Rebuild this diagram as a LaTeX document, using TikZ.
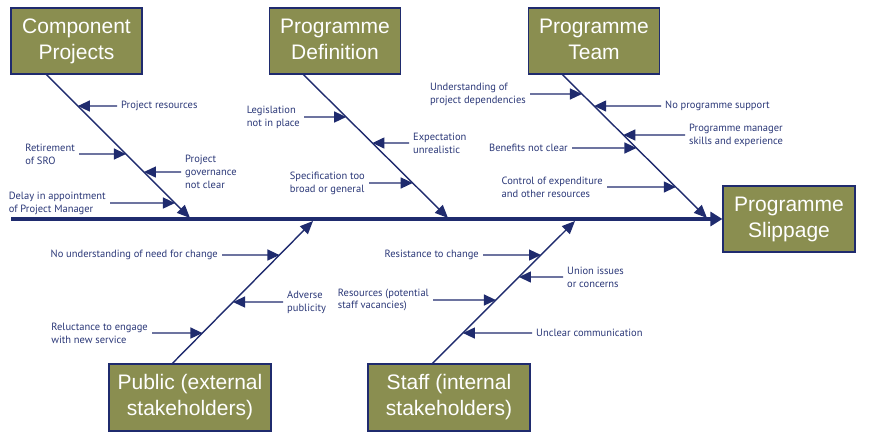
\documentclass[tikz,border=0pt]{standalone}
\usepackage{fontspec}
\setmainfont{Liberation Sans}
\newfontfamily\labfont{PT Sans}
\usetikzlibrary{arrows.meta}
\definecolor{navy}{HTML}{1F2B6E}
\definecolor{labnavy}{HTML}{2B3878}
\definecolor{olive}{HTML}{8A8E50}
\begin{document}
\begin{tikzpicture}[x=1pt,y=-1pt,
  cat/.style={draw=navy, line width=1.2pt, fill=olive, text=white,
    font=\fontsize{21}{26}\selectfont, align=center, inner sep=0pt,
    minimum width=131pt, minimum height=66pt,
    execute at end node={\vphantom{)}}},
  catwide/.style={cat, minimum width=162pt, minimum height=67pt},
  lab/.style={text=labnavy, font=\labfont\fontsize{10.5}{12.8}\selectfont,
    align=left, inner ysep=0pt, inner xsep=4pt},
  spine/.style={draw=navy, line width=4pt, -{Triangle[length=12pt,width=14pt]}},
  bone/.style={draw=navy, line width=1.4pt, -{Triangle[length=13pt,width=11pt]}},
  sub/.style={draw=navy, line width=1.3pt, -{Triangle[length=12pt,width=11pt]}},
]
\useasboundingbox (0,0) rectangle (870,447);
\fill[white] (0,0) rectangle (870,447);

% category boxes
\node[cat] (cp) at (76.5,41) {Component\\Projects};
\node[cat] (pd) at (335,41) {Programme\\Definition};
\node[cat] (pt) at (594,41) {Programme\\Team};
\node[cat, minimum width=132pt] (ps) at (789,219) {Programme\\Slippage};
\node[catwide] (pu) at (190,397.5) {Public (external\\stakeholders)};
\node[catwide] (st) at (449,397.5) {Staff (internal\\stakeholders)};

% spine
\coordinate (sp0) at (11,219);
\draw[spine] (sp0) -- (ps.west |- sp0);

% bones
\coordinate (cpA) at ([xshift=36pt]cp.south west);
\coordinate (cpT) at (190,218);
\coordinate (pdA) at ([xshift=34.5pt]pd.south west);
\coordinate (pdT) at (448,218);
\coordinate (ptA) at ([xshift=34.5pt]pt.south west);
\coordinate (ptT) at (707,218);
\coordinate (puA) at ([xshift=64pt]pu.north west);
\coordinate (puT) at (313,221);
\coordinate (stA) at ([xshift=65pt]st.north west);
\coordinate (stT) at (575,221);
\draw[bone] (cpA) -- (cpT);
\draw[bone] (pdA) -- (pdT);
\draw[bone] (ptA) -- (ptT);
\draw[bone] (puA) -- (puT);
\draw[bone] (stA) -- (stT);

% Component Projects causes
\node[lab, anchor=west] (l1) at (117,106) {Project resources};
\node[lab, anchor=east] (l2) at (79,154) {Retirement\\of SRO};
\node[lab, anchor=west] (l3) at (181,172) {Project\\governance\\not clear};
\node[lab, anchor=east] (l4) at (110,203) {Delay in appointment\\of Project Manager};
\draw[sub] (l1.west) -- (intersection of cpA--cpT and l1.west--l1.east);
\draw[sub] (l2.east) -- (intersection of cpA--cpT and l2.west--l2.east);
\draw[sub] (l3.west) -- (intersection of cpA--cpT and l3.west--l3.east);
\draw[sub] (l4.east) -- (intersection of cpA--cpT and l4.west--l4.east);

% Programme Definition causes
\node[lab, anchor=east] (l5) at (304,117) {Legislation\\not in place};
\node[lab, anchor=west] (l6) at (409,143) {Expectation\\unrealistic};
\node[lab, anchor=east] (l7) at (369,183) {Specification too\\broad or general};
\draw[sub] (l5.east) -- (intersection of pdA--pdT and l5.west--l5.east);
\draw[sub] (l6.west) -- (intersection of pdA--pdT and l6.west--l6.east);
\draw[sub] (l7.east) -- (intersection of pdA--pdT and l7.west--l7.east);

% Programme Team causes
\node[lab, anchor=east] (l8) at (530,94) {Understanding of\\project dependencies};
\node[lab, anchor=west] (l9) at (661,106) {No programme support};
\node[lab, anchor=west] (l10) at (685,135) {Programme manager\\skills and experience};
\node[lab, anchor=east] (l11) at (572,148) {Benefits not clear};
\node[lab, anchor=east] (l12) at (607,187) {Control of expenditure\\and other resources};
\draw[sub] (l8.east) -- (intersection of ptA--ptT and l8.west--l8.east);
\draw[sub] (l9.west) -- (intersection of ptA--ptT and l9.west--l9.east);
\draw[sub] (l10.west) -- (intersection of ptA--ptT and l10.west--l10.east);
\draw[sub] (l11.east) -- (intersection of ptA--ptT and l11.west--l11.east);
\draw[sub] (l12.east) -- (intersection of ptA--ptT and l12.west--l12.east);

% Public causes
\node[lab, anchor=east] (l13) at (222,255) {No understanding of need for change};
\node[lab, anchor=west] (l14) at (283,302) {Adverse\\publicity};
\node[lab, anchor=east] (l15) at (152,333) {Reluctance to engage\\with new service};
\draw[sub] (l13.east) -- (intersection of puA--puT and l13.west--l13.east);
\draw[sub] (l14.west) -- (intersection of puA--puT and l14.west--l14.east);
\draw[sub] (l15.east) -- (intersection of puA--puT and l15.west--l15.east);

% Staff causes
\node[lab, anchor=east] (l16) at (483,255) {Resistance to change};
\node[lab, anchor=west] (l17) at (563,277) {Union issues\\or concerns};
\node[lab, anchor=east] (l18) at (433,300) {Resources (potential\\staff vacancies)};
\node[lab, anchor=west] (l19) at (532,333) {Unclear communication};
\draw[sub] (l16.east) -- (intersection of stA--stT and l16.west--l16.east);
\draw[sub] (l17.west) -- (intersection of stA--stT and l17.west--l17.east);
\draw[sub] (l18.east) -- (intersection of stA--stT and l18.west--l18.east);
\draw[sub] (l19.west) -- (intersection of stA--stT and l19.west--l19.east);
\end{tikzpicture}
\end{document}
